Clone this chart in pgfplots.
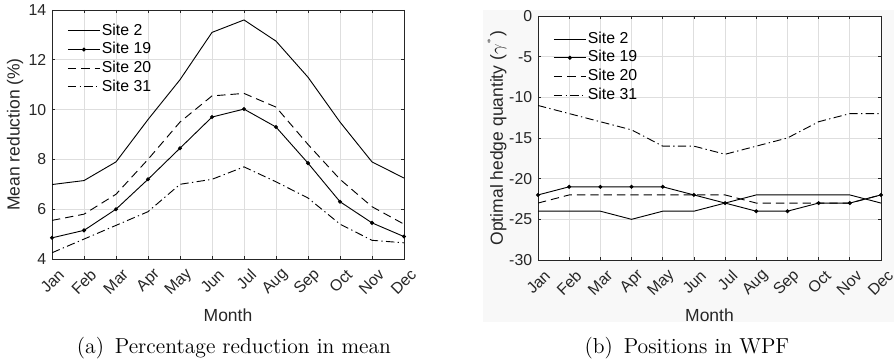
\documentclass[border=0pt]{standalone}
\usepackage{pgfplots}
\pgfplotsset{compat=1.18}
\usepackage{fontspec}
\setmainfont{Liberation Sans}
\newfontfamily\capfont{Latin Modern Roman}
\definecolor{axgray}{HTML}{262626}
\definecolor{gridgray}{HTML}{DEDEDE}
\definecolor{figbg}{HTML}{F8F8F8}
\pgfplotsset{
  mystyle/.style={
    scale only axis,
    anchor=south west,
    xmin=0, xmax=11,
    xtick={0,1,2,3,4,5,6,7,8,9,10,11},
    xticklabels={Jan,Feb,Mar,Apr,May,Jun,Jul,Aug,Sep,Oct,Nov,Dec},
    xticklabel style={xshift=6.5pt, yshift=-7pt, rotate=45, anchor=east, inner sep=1pt, font=\fontsize{9.5}{11}\selectfont, text=axgray},
    yticklabel style={font=\fontsize{9.5}{11}\selectfont, text=axgray},
    /pgf/number format/assume math mode=true,
    tick align=inside, tick pos=both,
    major tick length=1.8pt,
    every tick/.style={axgray, line width=0.4pt},
    axis line style={axgray, line width=0.5pt},
    grid=major,
    major grid style={gridgray, line width=0.5pt},
    axis background/.style={fill=white},
    label style={font=\fontsize{10.5}{12}\selectfont, text=axgray},
    legend cell align=left,
    legend style={draw=none, fill=none, anchor=north west,
      font=\fontsize{9.5}{11}\selectfont, inner sep=0pt,
      row sep=0pt,
      nodes={text height=7.2pt, text depth=2.2pt, inner sep=0.9pt},
      /tikz/every even column/.append style={column sep=0pt}},
    legend image code/.code={\draw[mark repeat=2,mark phase=2,##1] plot coordinates {(0pt,0pt) (9.6pt,0pt) (19.2pt,0pt)};},
    s2/.style={black, line width=0.55pt, no markers},
    s19/.style={black, line width=0.55pt, mark=*, mark size=0.9pt},
    s20/.style={black, line width=0.55pt, no markers, dash pattern=on 5pt off 3pt},
    s31/.style={black, line width=0.55pt, no markers, dash pattern=on 5pt off 2pt on 0.8pt off 2pt},
  }
}
\begin{document}
\begin{tikzpicture}
\path[use as bounding box] (0,0) rectangle (536.4pt,-218.4pt);
\fill[figbg] (289.8pt,-6pt) rectangle (536.4pt,-193.2pt);
\begin{axis}[mystyle,
  at={(31.2pt,-155.4pt)},
  width=211.2pt, height=149.4pt,
  ymin=4, ymax=14, ytick={4,6,8,10,12,14},
  xlabel={Month}, ylabel={Mean reduction (\%)},
  xlabel style={at={(axis description cs:0.5,-0.225)}, anchor=center},
  ylabel style={at={(axis description cs:-0.105,0.5)}, anchor=center},
  legend style={at={(axis description cs:0.043,0.955)}},
]
\addplot[s2] coordinates {(0,6.99) (1,7.15) (2,7.9) (3,9.6) (4,11.2) (5,13.1) (6,13.6) (7,12.75) (8,11.3) (9,9.5) (10,7.9) (11,7.25)};
\addplot[s19] coordinates {(0,4.85) (1,5.15) (2,6.0) (3,7.2) (4,8.45) (5,9.7) (6,10.02) (7,9.3) (8,7.85) (9,6.3) (10,5.45) (11,4.9)};
\addplot[s20] coordinates {(0,5.55) (1,5.8) (2,6.6) (3,8.0) (4,9.5) (5,10.55) (6,10.65) (7,10.1) (8,8.6) (9,7.2) (10,6.1) (11,5.4)};
\addplot[s31] coordinates {(0,4.25) (1,4.8) (2,5.35) (3,5.9) (4,7.0) (5,7.2) (6,7.7) (7,7.1) (8,6.45) (9,5.4) (10,4.75) (11,4.65)};
\legend{Site 2, Site 19, Site 20, Site 31}
\end{axis}
\begin{axis}[mystyle,
  at={(322.8pt,-156pt)},
  width=205.8pt, height=146.4pt,
  ymin=-30, ymax=0, ytick={-30,-25,-20,-15,-10,-5,0},
  xlabel={Month}, ylabel={Optimal hedge quantity ($\gamma^{^*}$)},
  xlabel style={at={(axis description cs:0.5,-0.225)}, anchor=center},
  ylabel style={at={(axis description cs:-0.12,0.5)}, anchor=center},
  legend style={at={(axis description cs:0.044,0.945)}},
]
\addplot[s2] coordinates {(0,-24) (1,-24) (2,-24) (3,-25) (4,-24) (5,-24) (6,-23) (7,-22) (8,-22) (9,-22) (10,-22) (11,-23)};
\addplot[s19] coordinates {(0,-22) (1,-21) (2,-21) (3,-21) (4,-21) (5,-22) (6,-23) (7,-24) (8,-24) (9,-23) (10,-23) (11,-22)};
\addplot[s20] coordinates {(0,-23) (1,-22) (2,-22) (3,-22) (4,-22) (5,-22) (6,-22) (7,-23) (8,-23) (9,-23) (10,-23) (11,-22)};
\addplot[s31] coordinates {(0,-11) (1,-12) (2,-13) (3,-14) (4,-16) (5,-16) (6,-17) (7,-16) (8,-15) (9,-13) (10,-12) (11,-12)};
\legend{Site 2, Site 19, Site 20, Site 31}
\end{axis}
\node[font=\capfont\fontsize{13}{15}\selectfont] at (140.4pt,-208.8pt) {(a)\enspace Percentage reduction in mean};
\node[font=\capfont\fontsize{13}{15}\selectfont] at (412.2pt,-208.8pt) {(b)\enspace Positions in WPF};
\end{tikzpicture}
\end{document}
